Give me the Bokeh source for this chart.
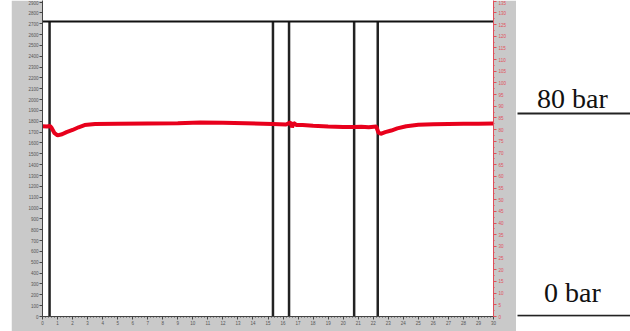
from bokeh.plotting import figure
from bokeh.models import Range1d, LinearAxis, SingleIntervalTicker, ColumnDataSource, Spacer
from bokeh.layouts import row
from bokeh.core.properties import value
from bokeh.embed import file_html
from bokeh.resources import INLINE

# ---------------- data ----------------
time_s = [0, 0.3, 0.5, 0.6, 0.8, 1.0, 1.3, 1.6, 2.0, 2.4, 2.8, 3.5, 5, 7, 9, 10.5,
          12, 13.5, 15.3, 16.2, 16.5, 16.6, 16.7, 16.9, 17.3, 18, 19, 20, 20.7, 21.2,
          21.7, 22.2, 22.35, 22.5, 22.8, 23.2, 23.6, 24.2, 25, 26, 27, 28, 29, 30]
pressure = [1755, 1752, 1758, 1740, 1690, 1670, 1680, 1700, 1720, 1745, 1765, 1775,
            1778, 1780, 1782, 1788, 1786, 1782, 1775, 1770, 1790, 1745, 1785, 1765,
            1765, 1758, 1752, 1748, 1748, 1750, 1745, 1752, 1695, 1685, 1700, 1715,
            1735, 1755, 1768, 1772, 1775, 1778, 1778, 1780]
event_times = [0.47, 15.33, 16.4, 20.73, 22.3]
marker_top = 2720
left_max = 2914
right_max = left_max * 130 / 2800
bar_labels = ["80 bar", "0 bar"]
bar_levels = [1864, 0]

GREY = "#c9c9c9"
RED = "#e8001c"
AXRED = "#e0505a"
TXT = "#555555"

FRAME_H = 316
BOTTOM = 15
H = FRAME_H + BOTTOM

p = figure(width=505, height=H, output_backend="svg", toolbar_location=None,
           x_range=Range1d(0, 30), y_range=Range1d(0, left_max),
           min_border_left=31, min_border_right=23, min_border_top=0,
           min_border_bottom=BOTTOM, background_fill_color="white",
           border_fill_color=GREY, outline_line_color=None)
p.grid.visible = False
p.extra_y_ranges = {"bar": Range1d(0, right_max)}

for ax in p.xaxis + p.yaxis:
    ax.major_label_text_font = "Liberation Sans"
    ax.major_label_text_font_size = "4.5px"
    ax.major_label_text_color = TXT
    ax.axis_line_color = "#444444"
    ax.major_tick_line_color = "#444444"
    ax.minor_tick_line_color = "#444444"
    ax.major_tick_in = 0
    ax.major_tick_out = 3
    ax.minor_tick_in = 0
    ax.minor_tick_out = 1
    ax.major_label_standoff = 1

p.xaxis.ticker = SingleIntervalTicker(interval=1, num_minor_ticks=5)
p.yaxis.ticker = SingleIntervalTicker(interval=100, num_minor_ticks=0)

rax = LinearAxis(y_range_name="bar", ticker=SingleIntervalTicker(interval=5, num_minor_ticks=2))
rax.major_label_text_font = "Liberation Sans"
rax.major_label_text_font_size = "4.5px"
rax.major_label_text_color = AXRED
rax.axis_line_color = AXRED
rax.major_tick_line_color = AXRED
rax.minor_tick_line_color = AXRED
rax.major_tick_in = 0
rax.major_tick_out = 3
rax.minor_tick_in = 0
rax.minor_tick_out = 1
rax.major_label_standoff = 2
p.add_layout(rax, "right")

# event markers
p.segment(x0=event_times, y0=[0] * len(event_times), x1=event_times,
          y1=[marker_top] * len(event_times), line_color="#222222", line_width=2.5)
p.segment(x0=[0], y0=[marker_top], x1=[30], y1=[marker_top], line_color="#111111", line_width=2)

# pressure trace
p.line(time_s, pressure, line_color=RED, line_width=4)

# ---------------- annotation panel (frame aligned with main plot) ----------------
W2 = 114
pad = 8
p2 = figure(width=W2, height=H, output_backend="svg", toolbar_location=None,
            x_range=Range1d(0, W2), y_range=Range1d(-pad, left_max - pad),
            min_border_left=0, min_border_right=0, min_border_top=0,
            min_border_bottom=BOTTOM, x_axis_location=None, y_axis_location=None,
            outline_line_color=None, background_fill_color="white",
            border_fill_color="white")
p2.grid.visible = False
p2.segment(x0=[1] * len(bar_levels), y0=bar_levels, x1=[W2] * len(bar_levels),
           y1=bar_levels, line_color="#222222", line_width=2)
src = ColumnDataSource(dict(x=[56] * len(bar_labels), y=bar_levels, t=bar_labels,
                            off=[-15, -23]))
p2.text(x="x", y="y", text="t", y_offset="off", source=src, text_align="center",
        text_baseline="alphabetic", text_font=value("Liberation Serif"),
        text_font_size="28px", text_color="#111111")

layout = row(Spacer(width=11, height=H), p, p2)
open("out.html", "w").write(file_html(layout, INLINE))
